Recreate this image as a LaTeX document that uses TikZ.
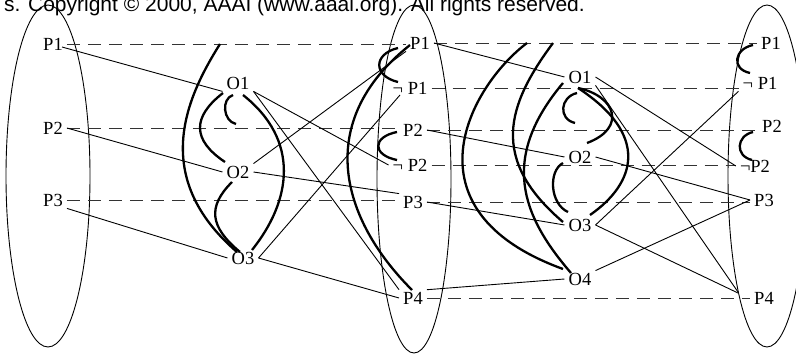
\documentclass[tikz,border=0pt]{standalone}
\usepackage{fontspec}
\setmainfont{Liberation Serif}
\newfontfamily\notefont{Liberation Sans}
\usetikzlibrary{positioning}

\tikzset{
  % proposition and action labels
  lbl/.style={font=\fontsize{18.5}{22}\selectfont, inner xsep=4pt, inner ysep=2pt},
  % precondition / effect links
  prec/.style={line width=0.9pt},
  % no-op lines
  noop/.style={line width=1pt, black!80, dash pattern=on 13pt off 8pt},
  % mutex arcs
  mutex/.style={line width=2.3pt},
  % outline of a proposition level
  stage/.style={line width=0.9pt}
}

\begin{document}
\begin{tikzpicture}[x=1pt, y=1pt]
  \useasboundingbox (0,0) rectangle (796,-356);
  \clip (0,0) rectangle (796,-356);
  % copyright line, cut off at the top edge
  \node[anchor=base east, inner sep=0pt, font=\notefont\fontsize{21}{25}\selectfont] (note) at (585,-12)
    {s. Copyright © 2000, AAAI (www.aaai.org). All rights reserved.};

  % proposition levels
  \draw[stage] (48,-176) ellipse [x radius=42, y radius=171];
  \draw[stage] (414,-179) ellipse [x radius=37, y radius=174];
  \draw[stage] (767,-176) ellipse [x radius=39, y radius=171];

  % level 0
  \node[lbl] (s0p1) at (53,-44)  {P1};
  \node[lbl] (s0p2) at (53,-128) {P2};
  \node[lbl] (s0p3) at (53,-200) {P3};

  % actions 1
  \node[lbl] (a1o1) at (238,-83)  {O1};
  \node[lbl] (a1o2) at (238,-172) {O2};
  \node[lbl] (a1o3) at (243,-258) {O3};

  % level 1
  \node[lbl] (s1p1)  at (420,-43)  {P1};
  \node[lbl] (s1np1) at (410,-88)  {¬ P1};
  \node[lbl] (s1p2)  at (413,-130) {P2};
  \node[lbl] (s1np2) at (410,-165) {¬ P2};
  \node[lbl] (s1p3)  at (413,-202) {P3};
  \node[lbl] (s1p4)  at (413,-298) {P4};

  % actions 2
  \node[lbl] (a2o1) at (580,-77)  {O1};
  \node[lbl] (a2o2) at (580,-157) {O2};
  \node[lbl] (a2o3) at (580,-225) {O3};
  \node[lbl] (a2o4) at (580,-279) {O4};

  % level 2
  \node[lbl] (s2p1)  at (771,-43)  {P1};
  \node[lbl] (s2np1) at (760,-83)  {¬ P1};
  \node[lbl] (s2p2)  at (772,-126) {P2};
  \node[lbl] (s2np2) at (755,-166) {¬P2};
  \node[lbl] (s2p3)  at (764,-200) {P3};
  \node[lbl] (s2p4)  at (764,-298) {P4};

  % no-ops
  \draw[noop] (s0p1.east) -- (s0p1.east -| s1p1.west);
  \draw[noop] (s0p2.east) -- (s0p2.east -| s1p2.west);
  \draw[noop] (s0p3.east) -- (s0p3.east -| s1p3.west);
  \draw[noop] (s1p1.east) -- (s1p1.east -| s2p1.west);
  \draw[noop] (s1np1.east) -- (s1np1.east -| s2np1.west);
  \draw[noop] (s1p2.east) -- (s1p2.east -| s2p2.west);
  \draw[noop] (s1np2.east) -- (s1np2.east -| s2np2.west);
  \draw[noop] (s1p3.east) -- (s1p3.east -| s2p3.west);
  \draw[noop] (s1p4.east) -- (s1p4.east -| s2p4.west);
  \coordinate (np1a) at (220,-44);
  \coordinate (np2a) at (236,-124);
  \coordinate (np1b) at (527,-43);
  \coordinate (np1c) at (553,-43);
  \coordinate (np2b) at (575,-123);

  % preconditions and effects
  \draw[prec] ([shift={(9,-3)}]s0p1.center) -- (a1o1.south west);
  \draw[prec] (s0p2.east) -- (a1o2.west);
  \draw[prec] (s0p3.south east) -- (a1o3.west);
  \draw[prec] (a1o1.south east) -- (s1np2.west);
  \draw[prec] (a1o1.south east) -- (s1p4.north west);
  \draw[prec] (a1o2.north east) -- (s1p1.south west);
  \draw[prec] (a1o2.east) -- (s1p3.north west);
  \draw[prec] (a1o3.east) -- ([shift={(-10,-7)}]s1np1.center);
  \draw[prec] (a1o3.east) -- (s1p4.west);
  \draw[prec] (s1p1.east) -- (a2o1.west);
  \draw[prec] (s1p2.east) -- (a2o2.west);
  \draw[prec] (s1p3.east) -- (a2o3.west);
  \draw[prec] (s1p4.north east) -- (a2o4.west);
  \draw[prec] (a2o1.east) -- (s2np2.west);
  \draw[prec] (a2o1.south east) -- ([shift={(-26,6)}]s2p4.center);
  \draw[prec] (a2o2.east) -- (s2p3.west);
  \draw[prec] (a2o3.east) -- (s2np1.south west);
  \draw[prec] (a2o3.east) -- ([shift={(-26,5)}]s2p4.center);
  \draw[prec] (a2o4.north east) -- (s2p3.west);

  % mutexes, actions 1
  \draw[mutex] (np1a) .. controls (186,-98) and (150,-177) .. ([shift={(-6,6)}]a1o3.center);
  \draw[mutex] ([shift={(-15,-10)}]a1o1.center) .. controls (192,-117) and (192,-140) .. ([shift={(-13,10)}]a1o2.center);
  \draw[mutex] ([shift={(-5,-12)}]a1o1.center) .. controls (221,-99) and (223,-121) .. (np2a);
  \draw[mutex] ([shift={(5,-12)}]a1o1.center) .. controls (300,-140) and (292,-200) .. ([shift={(9,8)}]a1o3.center);
  \draw[mutex] ([shift={(-6,-10)}]a1o2.center) .. controls (207,-207) and (210,-227) .. ([shift={(-3,6)}]a1o3.center);

  % mutexes, level 1
  \draw[mutex] ([shift={(-22,-5)}]s1p1.center) .. controls (373,-54) and (373,-76) .. ([shift={(-12,6)}]s1np1.center);
  \draw[mutex] ([shift={(-10,-2)}]s1p1.center) .. controls (313,-122) and (341,-219) .. ([shift={(-1,8)}]s1p4.center);
  \draw[mutex] ([shift={(-16,-2)}]s1p2.center) .. controls (372,-137) and (372,-155) .. ([shift={(-13,5)}]s1np2.center);

  % mutexes, actions 2
  \draw[mutex] (np1b) .. controls (470,-86) and (401,-210) .. ([shift={(-17,10)}]a2o4.center);
  \draw[mutex] (np1c) .. controls (507,-105) and (489,-159) .. ([shift={(-17,3)}]a2o3.center);
  \draw[mutex] ([shift={(-17,-6)}]a2o1.center) .. controls (500,-158) and (521,-215) .. ([shift={(-9,6)}]a2o4.center);
  \draw[mutex] ([shift={(-3,-16)}]a2o1.center) .. controls (560,-97) and (558,-119) .. (np2b);
  \draw[mutex] ([shift={(-2,-11)}]a2o1.center) .. controls (616,-96) and (627,-128) .. ([shift={(7,14)}]a2o2.center);
  \draw[mutex] ([shift={(-2,-11)}]a2o1.center) .. controls (650,-135) and (636,-183) .. ([shift={(10,10)}]a2o3.center);
  \draw[mutex] ([shift={(-17,-6)}]a2o2.center) .. controls (548,-171) and (550,-204) .. ([shift={(-12,13)}]a2o3.center);

  % mutexes, level 2
  \draw[mutex] ([shift={(-18,-2)}]s2p1.center) .. controls (734,-49) and (731,-69) .. ([shift={(-10,10)}]s2np1.center);
  \draw[mutex] ([shift={(-19,-6)}]s2p2.center) .. controls (736,-136) and (735,-156) .. ([shift={(-3,6)}]s2np2.center);
\end{tikzpicture}
\end{document}
